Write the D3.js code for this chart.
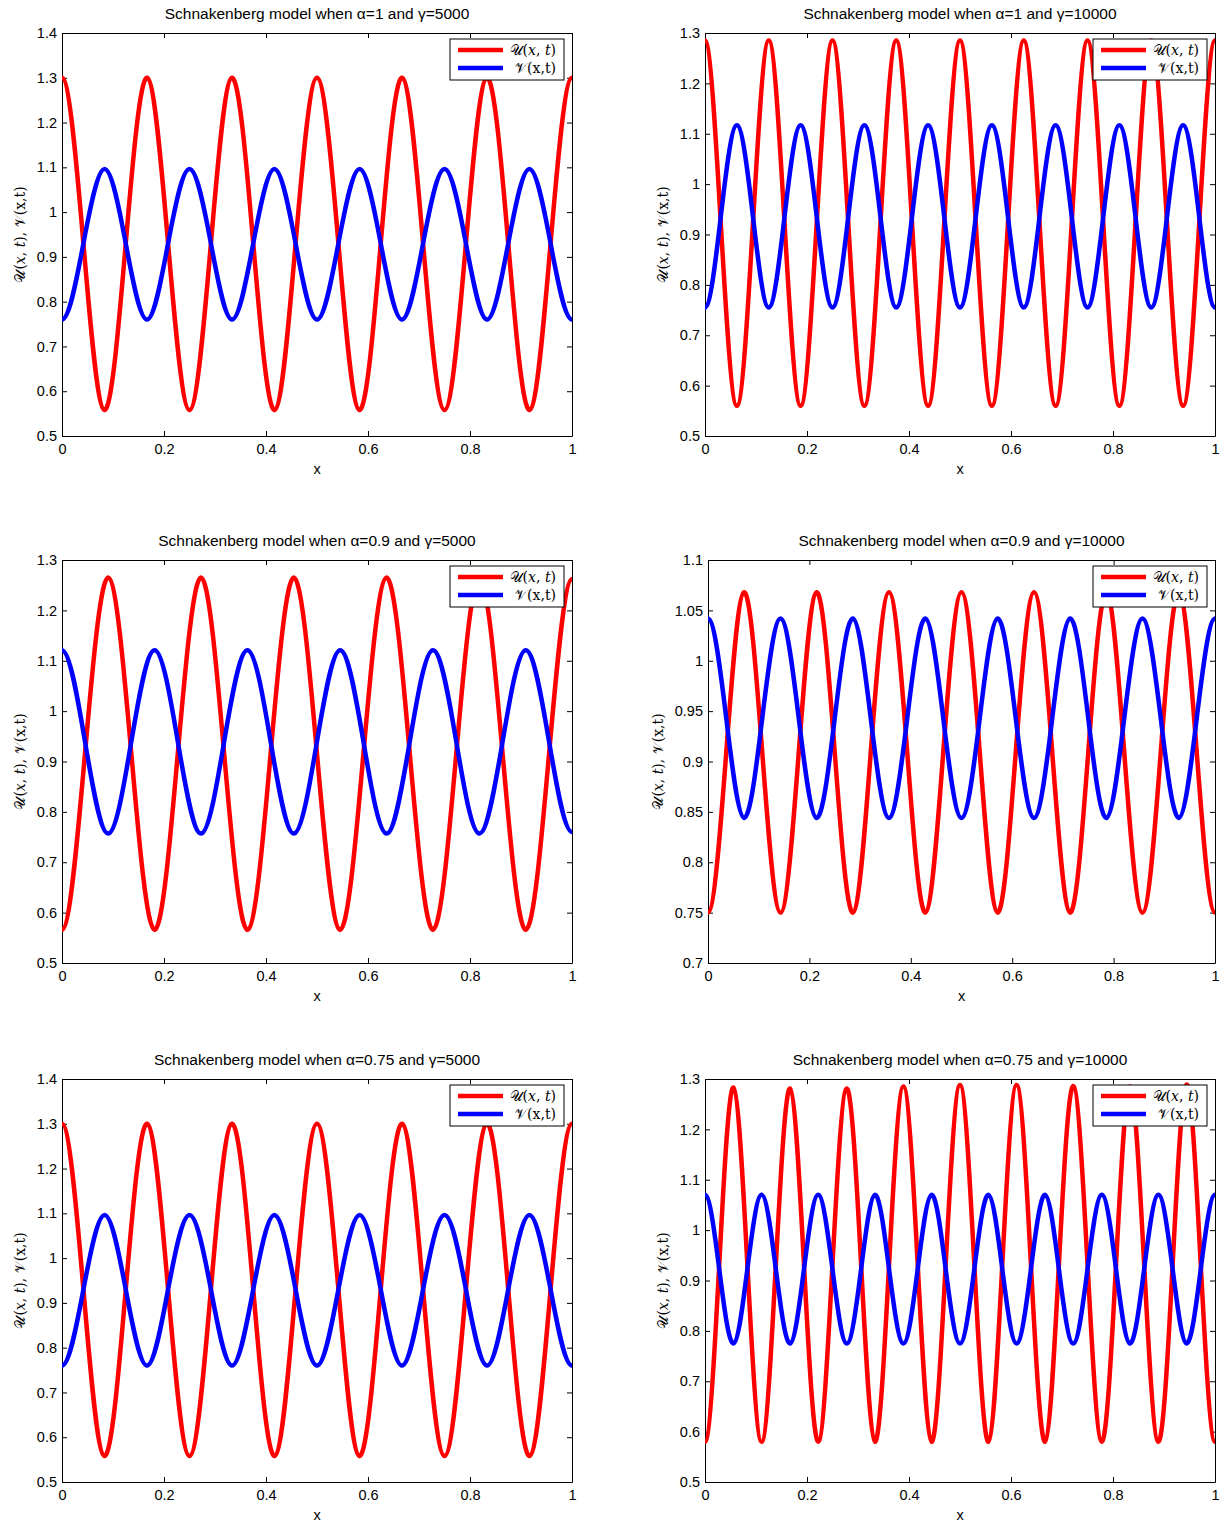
<!DOCTYPE html>
<html>
<head>
<meta charset="utf-8">
<script src="https://cdn.jsdelivr.net/npm/d3@7"></script>
<style>
  body { margin: 0; background: #fff; }
  svg { display: block; }
</style>
</head>
<body>
<svg id="fig" width="1228" height="1522"></svg>
<script>
// ---- tick values ----
const xTicks = [0, 0.2, 0.4, 0.6, 0.8, 1];
const yTicksWide = [0.5, 0.6, 0.7, 0.8, 0.9, 1, 1.1, 1.2, 1.3, 1.4];
const yTicksMid = [0.5, 0.6, 0.7, 0.8, 0.9, 1, 1.1, 1.2, 1.3];
const yTicksFine = [0.7, 0.75, 0.8, 0.85, 0.9, 0.95, 1, 1.05, 1.1];

// ---- alpha = 1, gamma = 5000 (extrema and crossings) ----
const xA1G5 = [0, 0.042, 0.083, 0.125, 0.167, 0.208, 0.25, 0.292, 0.333, 0.375, 0.417, 0.458, 0.5,
  0.542, 0.583, 0.625, 0.667, 0.708, 0.75, 0.792, 0.833, 0.875, 0.917, 0.958, 1];
const uA1G5 = [1.30, 0.93, 0.558, 0.93, 1.30, 0.93, 0.558, 0.93, 1.30, 0.93, 0.558, 0.93, 1.30,
  0.93, 0.558, 0.93, 1.30, 0.93, 0.558, 0.93, 1.30, 0.93, 0.558, 0.93, 1.30];
const vA1G5 = [0.76, 0.93, 1.096, 0.93, 0.76, 0.93, 1.096, 0.93, 0.76, 0.93, 1.096, 0.93, 0.76,
  0.93, 1.096, 0.93, 0.76, 0.93, 1.096, 0.93, 0.76, 0.93, 1.096, 0.93, 0.76];

// ---- alpha = 1, gamma = 10000 ----
const xA1G10 = [0, 0.031, 0.0625, 0.094, 0.125, 0.156, 0.1875, 0.219, 0.25, 0.281, 0.3125, 0.344,
  0.375, 0.406, 0.4375, 0.469, 0.5, 0.531, 0.5625, 0.594, 0.625, 0.656, 0.6875, 0.719, 0.75,
  0.781, 0.8125, 0.844, 0.875, 0.906, 0.9375, 0.969, 1];
const uA1G10 = [1.285, 0.922, 0.56, 0.922, 1.285, 0.922, 0.56, 0.922, 1.285, 0.922, 0.56, 0.922,
  1.285, 0.922, 0.56, 0.922, 1.285, 0.922, 0.56, 0.922, 1.285, 0.922, 0.56, 0.922, 1.285,
  0.922, 0.56, 0.922, 1.285, 0.922, 0.56, 0.922, 1.285];
const vA1G10 = [0.755, 0.936, 1.117, 0.936, 0.755, 0.936, 1.117, 0.936, 0.755, 0.936, 1.117, 0.936,
  0.755, 0.936, 1.117, 0.936, 0.755, 0.936, 1.117, 0.936, 0.755, 0.936, 1.117, 0.936, 0.755,
  0.936, 1.117, 0.936, 0.755, 0.936, 1.117, 0.936, 0.755];

// ---- alpha = 0.9, gamma = 5000 ----
const xA09G5 = [0, 0.045, 0.091, 0.136, 0.182, 0.227, 0.273, 0.318, 0.364, 0.409, 0.455, 0.5,
  0.545, 0.591, 0.636, 0.682, 0.727, 0.773, 0.818, 0.864, 0.909, 0.955, 1];
const uA09G5 = [0.566, 0.915, 1.265, 0.915, 0.566, 0.915, 1.265, 0.915, 0.566, 0.915, 1.265, 0.915,
  0.566, 0.915, 1.265, 0.915, 0.566, 0.915, 1.265, 0.915, 0.566, 0.915, 1.262];
const vA09G5 = [1.121, 0.94, 0.757, 0.94, 1.121, 0.94, 0.757, 0.94, 1.121, 0.94, 0.757, 0.94,
  1.121, 0.94, 0.757, 0.94, 1.121, 0.94, 0.757, 0.94, 1.121, 0.94, 0.76];

// ---- alpha = 0.9, gamma = 10000 ----
const xA09G10 = [0, 0.036, 0.071, 0.107, 0.143, 0.179, 0.214, 0.25, 0.286, 0.321, 0.357, 0.393,
  0.429, 0.464, 0.5, 0.536, 0.571, 0.607, 0.643, 0.679, 0.714, 0.75, 0.786, 0.821, 0.857, 0.893,
  0.929, 0.964, 1];
const uA09G10 = [0.75, 0.909, 1.068, 0.909, 0.75, 0.909, 1.068, 0.909, 0.75, 0.909, 1.068, 0.909,
  0.75, 0.909, 1.068, 0.909, 0.75, 0.909, 1.068, 0.909, 0.75, 0.909, 1.068, 0.909, 0.75, 0.909,
  1.068, 0.909, 0.75];
const vA09G10 = [1.042, 0.943, 0.844, 0.943, 1.042, 0.943, 0.844, 0.943, 1.042, 0.943, 0.844, 0.943,
  1.042, 0.943, 0.844, 0.943, 1.042, 0.943, 0.844, 0.943, 1.042, 0.943, 0.844, 0.943, 1.042, 0.943,
  0.844, 0.943, 1.042];

// ---- alpha = 0.75, gamma = 5000 ----
const xA075G5 = [0, 0.042, 0.083, 0.125, 0.167, 0.208, 0.25, 0.292, 0.333, 0.375, 0.417, 0.458, 0.5,
  0.542, 0.583, 0.625, 0.667, 0.708, 0.75, 0.792, 0.833, 0.875, 0.917, 0.958, 1];
const uA075G5 = [1.30, 0.93, 0.558, 0.93, 1.30, 0.93, 0.558, 0.93, 1.30, 0.93, 0.558, 0.93, 1.30,
  0.93, 0.558, 0.93, 1.30, 0.93, 0.558, 0.93, 1.30, 0.93, 0.558, 0.93, 1.30];
const vA075G5 = [0.76, 0.93, 1.096, 0.93, 0.76, 0.93, 1.096, 0.93, 0.76, 0.93, 1.096, 0.93, 0.76,
  0.93, 1.096, 0.93, 0.76, 0.93, 1.096, 0.93, 0.76, 0.93, 1.096, 0.93, 0.76];

// ---- alpha = 0.75, gamma = 10000 ----
const xA075G10 = [0, 0.028, 0.056, 0.083, 0.111, 0.139, 0.167, 0.194, 0.222, 0.25, 0.278, 0.306,
  0.333, 0.361, 0.389, 0.417, 0.444, 0.472, 0.5, 0.528, 0.556, 0.583, 0.611, 0.639, 0.667, 0.694,
  0.722, 0.75, 0.778, 0.806, 0.833, 0.861, 0.889, 0.917, 0.944, 0.972, 1];
const uA075G10 = [0.58, 0.933, 1.283, 0.933, 0.58, 0.933, 1.281, 0.933, 0.58, 0.933, 1.281, 0.933,
  0.58, 0.933, 1.285, 0.933, 0.58, 0.933, 1.288, 0.933, 0.58, 0.933, 1.288, 0.933, 0.58, 0.933,
  1.286, 0.933, 0.58, 0.933, 1.285, 0.933, 0.58, 0.933, 1.289, 0.933, 0.58];
const vA075G10 = [1.07, 0.922, 0.775, 0.922, 1.07, 0.922, 0.775, 0.922, 1.07, 0.922, 0.775, 0.922,
  1.07, 0.922, 0.775, 0.922, 1.07, 0.922, 0.775, 0.922, 1.07, 0.922, 0.775, 0.922, 1.07, 0.922,
  0.775, 0.922, 1.07, 0.922, 0.775, 0.922, 1.07, 0.922, 0.775, 0.922, 1.07];

const titles = [
  "Schnakenberg model when α=1 and γ=5000",
  "Schnakenberg model when α=1 and γ=10000",
  "Schnakenberg model when α=0.9 and γ=5000",
  "Schnakenberg model when α=0.9 and γ=10000",
  "Schnakenberg model when α=0.75 and γ=5000",
  "Schnakenberg model when α=0.75 and γ=10000"
];

// ---- layout of the six axes ----
const panels = [
  { title: titles[0], xs: xA1G5,    u: uA1G5,    v: vA1G5,    yt: yTicksWide, box: [62, 33, 572, 436],     ylx: 20 },
  { title: titles[1], xs: xA1G10,   u: uA1G10,   v: vA1G10,   yt: yTicksMid,  box: [705, 33, 1215, 436],   ylx: 663 },
  { title: titles[2], xs: xA09G5,   u: uA09G5,   v: vA09G5,   yt: yTicksMid,  box: [62, 560, 572, 963],    ylx: 20 },
  { title: titles[3], xs: xA09G10,  u: uA09G10,  v: vA09G10,  yt: yTicksFine, box: [708, 560, 1215, 963],  ylx: 658 },
  { title: titles[4], xs: xA075G5,  u: uA075G5,  v: vA075G5,  yt: yTicksWide, box: [62, 1079, 572, 1482],  ylx: 20 },
  { title: titles[5], xs: xA075G10, u: uA075G10, v: vA075G10, yt: yTicksMid,  box: [705, 1079, 1215, 1482], ylx: 663 }
];

// Clamped cubic spline curve for d3.line: zero slope at both ends
// (no-flux boundaries), C2-smooth through every interior point.
function clampedSlopes(X, Y) {
  const n = X.length, m = new Array(n).fill(0);
  if (n < 3) return m;
  const k = n - 2, a = [], b = [], c = [], d = [];
  for (let i = 1; i <= n - 2; i++) {
    const h0 = X[i] - X[i - 1], h1 = X[i + 1] - X[i];
    a.push(1 / h0); c.push(1 / h1); b.push(2 * (1 / h0 + 1 / h1));
    d.push(3 * ((Y[i] - Y[i - 1]) / (h0 * h0) + (Y[i + 1] - Y[i]) / (h1 * h1)));
  }
  for (let i = 1; i < k; i++) {
    const w = a[i] / b[i - 1];
    b[i] -= w * c[i - 1];
    d[i] -= w * d[i - 1];
  }
  const s = new Array(k);
  s[k - 1] = d[k - 1] / b[k - 1];
  for (let i = k - 2; i >= 0; i--) s[i] = (d[i] - c[i] * s[i + 1]) / b[i];
  for (let i = 0; i < k; i++) m[i + 1] = s[i];
  return m;
}
function ClampedSpline(context) { this._context = context; }
ClampedSpline.prototype = {
  areaStart() {}, areaEnd() {},
  lineStart() { this._x = []; this._y = []; },
  point(x, y) { this._x.push(+x); this._y.push(+y); },
  lineEnd() {
    const X = this._x, Y = this._y, n = X.length, ctx = this._context;
    if (n) {
      ctx.moveTo(X[0], Y[0]);
      const m = clampedSlopes(X, Y);
      for (let i = 0; i < n - 1; i++) {
        const h = X[i + 1] - X[i];
        ctx.bezierCurveTo(X[i] + h / 3, Y[i] + m[i] * h / 3,
                          X[i + 1] - h / 3, Y[i + 1] - m[i + 1] * h / 3,
                          X[i + 1], Y[i + 1]);
      }
    }
    this._x = this._y = null;
  }
};
const curveClamped = context => new ClampedSpline(context);

const svg = d3.select("#fig");
const sans = "'Liberation Sans', Arial, Helvetica, sans-serif";
const serif = "'DejaVu Serif', 'Liberation Serif', serif";
const fmt = d => String(+d.toFixed(2));

function styleAxis(g) {
  g.selectAll("path.domain").attr("stroke", "#000").attr("stroke-width", 1);
  g.selectAll(".tick line").attr("stroke", "#000").attr("stroke-width", 1);
  g.selectAll(".tick text").attr("fill", "#000").attr("font-family", sans).attr("font-size", 14.5);
}

function mathLabel(sel, italicArgs) {
  // calligraphic U(x,t) or V(x,t)
  sel.append("tspan").text(italicArgs ? "𝒰" : "𝒱");
  sel.append("tspan").text("(");
  sel.append("tspan").attr("font-style", italicArgs ? "italic" : "normal").text("x");
  sel.append("tspan").text(italicArgs ? ", " : ",");
  sel.append("tspan").attr("font-style", italicArgs ? "italic" : "normal").text("t");
  sel.append("tspan").text(")");
}

panels.forEach(p => {
  const [l, t, r, b] = p.box;
  const g = svg.append("g");
  const x = d3.scaleLinear().domain([0, 1]).range([l, r]);
  const y = d3.scaleLinear().domain([p.yt[0], p.yt[p.yt.length - 1]]).range([b, t]);

  // axes box with inward ticks on all four sides
  g.append("g").attr("transform", `translate(0,${b})`)
    .call(d3.axisBottom(x).tickValues(xTicks).tickFormat(fmt).tickSizeInner(-5).tickSizeOuter(0).tickPadding(8))
    .call(styleAxis);
  g.append("g").attr("transform", `translate(0,${t})`)
    .call(d3.axisTop(x).tickValues(xTicks).tickFormat("").tickSizeInner(-5).tickSizeOuter(0))
    .call(styleAxis);
  g.append("g").attr("transform", `translate(${l},0)`)
    .call(d3.axisLeft(y).tickValues(p.yt).tickFormat(fmt).tickSizeInner(-5).tickSizeOuter(0).tickPadding(5))
    .call(styleAxis);
  g.append("g").attr("transform", `translate(${r},0)`)
    .call(d3.axisRight(y).tickValues(p.yt).tickFormat("").tickSizeInner(-5).tickSizeOuter(0))
    .call(styleAxis);

  // title and axis labels
  g.append("text").attr("x", (l + r) / 2).attr("y", t - 14)
    .attr("text-anchor", "middle").attr("font-family", sans).attr("font-size", 15.5)
    .text(p.title);
  g.append("text").attr("x", (l + r) / 2).attr("y", b + 38)
    .attr("text-anchor", "middle").attr("font-family", sans).attr("font-size", 14.5)
    .text("x");
  const yl = g.append("text")
    .attr("transform", `translate(${p.ylx},${(t + b) / 2}) rotate(-90)`)
    .attr("text-anchor", "middle").attr("dy", "0.35em")
    .attr("font-family", serif).attr("font-size", 14);
  mathLabel(yl, true);
  yl.append("tspan").text(", ");
  mathLabel(yl, false);

  // the two fields
  const line = d3.line().x(d => x(d[0])).y(d => y(d[1])).curve(curveClamped);
  const series = [
    { vals: p.u, color: "#ff0000" },
    { vals: p.v, color: "#0000ff" }
  ];
  series.forEach(s => {
    g.append("path")
      .datum(p.xs.map((xi, i) => [xi, s.vals[i]]))
      .attr("d", line)
      .attr("fill", "none")
      .attr("stroke", s.color)
      .attr("stroke-width", 4.5)
      .attr("stroke-linejoin", "round");
  });

  // legend
  const lw = 114, lh = 41;
  const lx = r - 8 - lw, ly = t + 6;
  const lg = g.append("g");
  lg.append("rect").attr("x", lx).attr("y", ly).attr("width", lw).attr("height", lh)
    .attr("fill", "#fff").attr("stroke", "#000").attr("stroke-width", 1);
  [{ c: "#ff0000", u: true, dy: 11 }, { c: "#0000ff", u: false, dy: 29 }].forEach(e => {
    lg.append("line").attr("x1", lx + 8).attr("x2", lx + 53)
      .attr("y1", ly + e.dy).attr("y2", ly + e.dy)
      .attr("stroke", e.c).attr("stroke-width", 4.5);
    const tx = lg.append("text").attr("x", lx + 106).attr("y", ly + e.dy + 5)
      .attr("text-anchor", "end").attr("font-family", serif).attr("font-size", 14);
    mathLabel(tx, e.u);
  });
});
</script>
</body>
</html>
